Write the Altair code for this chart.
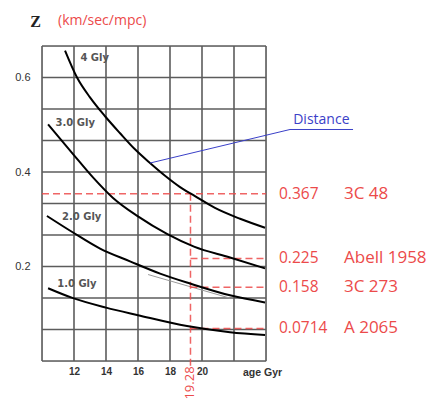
import altair as alt
import pandas as pd

# ---- curves: age (Gyr) vs Z ----
c4_x = [11.44, 12.19, 13.0, 13.94, 14.88, 15.81, 16.75, 17.69, 18.63, 19.56, 20.81, 22.38, 23.94]
c4_y = [0.657, 0.600, 0.558, 0.518, 0.482, 0.448, 0.419, 0.392, 0.368, 0.349, 0.324, 0.301, 0.282]
c3_x = [10.38, 11.94, 13.2, 14.44, 16.0, 17.81, 19.5, 21.75, 23.94]
c3_y = [0.501, 0.438, 0.388, 0.345, 0.306, 0.269, 0.242, 0.219, 0.196]
c2_x = [10.31, 11.94, 13.63, 15.5, 17.38, 19.25, 21.75, 23.94]
c2_y = [0.307, 0.272, 0.238, 0.211, 0.185, 0.164, 0.139, 0.124]
c1_x = [10.38, 11.94, 14.0, 16.0, 19.06, 21.75, 23.94]
c1_y = [0.154, 0.133, 0.113, 0.097, 0.074, 0.061, 0.055]
curve_names = ["4 Gly", "3.0 Gly", "2.0 Gly", "1.0 Gly"]
curve_label_x = [12.4, 10.85, 11.25, 10.95]
curve_label_y = [0.642, 0.503, 0.305, 0.164]

# faint grey guide line near the 2.0 Gly curve
grey_x = [16.63, 21.75]
grey_y = [0.183, 0.133]

# ---- marked objects ----
obj_z_text = ["0.367", "0.225", "0.158", "0.0714"]
obj_names = ["3C 48", "Abell 1958", "3C 273", "A 2065"]
obj_y = [0.354, 0.217, 0.156, 0.069]       # where the dashed lines sit in the picture
obj_x_start = [10, 19.28, 19.28, 19.28]
age_mark = 19.28

# ---- "Distance" annotation ----
dist_from = (16.75, 0.419)
dist_elbow = (25.5, 0.49)
dist_end_x = 29.44

grid_x = [10, 12, 14, 16, 18, 20, 22, 24]
grid_y = [0, 0.0667, 0.1333, 0.2, 0.2667, 0.3333, 0.4, 0.4667, 0.5333, 0.6, 0.6667]
x_labels = [12, 14, 16, 18, 20]
y_labels = [0.2, 0.4, 0.6]

RED = "#ec4a4a"
BLUE = "#3a40c8"
GRID = "#5c5c5c"

rows = []
for name, xs_, ys_ in zip(curve_names, [c4_x, c3_x, c2_x, c1_x], [c4_y, c3_y, c2_y, c1_y]):
    for a, b in zip(xs_, ys_):
        rows.append({"curve": name, "age": a, "z": b})
curves_df = pd.DataFrame(rows)

xs = alt.Scale(domain=[10, 24], nice=False, zero=False)
ys = alt.Scale(domain=[0, 0.6667], nice=False, zero=False)

gx = alt.Chart(pd.DataFrame({"age": grid_x})).mark_rule(color=GRID, strokeWidth=1.6).encode(
    x=alt.X("age:Q", scale=xs))
gy = alt.Chart(pd.DataFrame({"z": grid_y})).mark_rule(color=GRID, strokeWidth=1.6).encode(
    y=alt.Y("z:Q", scale=ys))

curves = alt.Chart(curves_df).mark_line(color="black", strokeWidth=2, interpolate="monotone").encode(
    x=alt.X("age:Q", scale=xs, axis=alt.Axis(
        values=x_labels, grid=False, domain=False, ticks=False, labelOverlap=False,
        labelFont="Liberation Sans", labelFontSize=10, labelFontWeight="bold", labelColor="#333",
        labelPadding=5, title="age    Gyr", titleFont="Liberation Sans", titleFontSize=10.5,
        titleFontWeight="bold", titleColor="#333", titleX=220, titleY=11,
        titleAlign="center", titleBaseline="middle")),
    y=alt.Y("z:Q", scale=ys, axis=alt.Axis(
        values=y_labels, grid=False, domain=False, ticks=False, labelOverlap=False, format=".1f",
        labelFont="Liberation Sans", labelFontSize=11, labelColor="#333", labelPadding=12,
        title="Z", titleFont="Liberation Serif", titleFontSize=16, titleFontWeight="bold",
        titleColor="#222", titleAngle=0, titleX=-7, titleY=-25,
        titleAlign="center", titleBaseline="middle")),
    detail="curve:N",
)

grey_df = pd.DataFrame({"age": grey_x, "z": grey_y})
grey = alt.Chart(grey_df).mark_line(color="#9a9a9a", strokeWidth=1).encode(
    x=alt.X("age:Q", scale=xs), y=alt.Y("z:Q", scale=ys))

clabels_df = pd.DataFrame({"age": curve_label_x, "z": curve_label_y, "t": curve_names})
clabels = alt.Chart(clabels_df).mark_text(
    align="left", baseline="middle", font="DejaVu Sans", fontSize=10,
    fontWeight="bold", color="#555").encode(
    x=alt.X("age:Q", scale=xs), y=alt.Y("z:Q", scale=ys), text="t:N")

obj_df = pd.DataFrame({"x0": obj_x_start, "x1": [24] * 4, "z": obj_y,
                       "zt": obj_z_text, "nm": obj_names})
hlines = alt.Chart(obj_df).mark_rule(color=RED, strokeWidth=1.5, strokeDash=[7, 4], opacity=0.85).encode(
    x=alt.X("x0:Q", scale=xs), x2="x1:Q", y=alt.Y("z:Q", scale=ys))
ztext = alt.Chart(obj_df).mark_text(
    align="left", baseline="middle", font="Open Sans", fontSize=15.5, color=RED).encode(
    x=alt.value(237), y=alt.Y("z:Q", scale=ys), text="zt:N")
ntext = alt.Chart(obj_df).mark_text(
    align="left", baseline="middle", font="Open Sans", fontSize=17, color=RED).encode(
    x=alt.value(302), y=alt.Y("z:Q", scale=ys), text="nm:N")

vdf = pd.DataFrame({"age": [age_mark], "z": [obj_y[0]], "t": [str(age_mark)]})
vline = alt.Chart(vdf).mark_rule(color=RED, strokeWidth=1.5, strokeDash=[7, 4], opacity=0.85).encode(
    x=alt.X("age:Q", scale=xs), y=alt.Y("z:Q", scale=ys), y2=alt.value(321))
vtext = alt.Chart(vdf).mark_text(
    angle=270, align="center", baseline="middle", font="Open Sans", fontSize=13, color=RED).encode(
    x=alt.X("age:Q", scale=xs), y=alt.value(337), text="t:N")

unit = alt.Chart(pd.DataFrame({"t": ["(km/sec/mpc)"]})).mark_text(
    align="left", baseline="middle", font="Open Sans", fontSize=14, color=RED).encode(
    x=alt.value(16), y=alt.value(-25), text="t:N")

ddf = pd.DataFrame({"x0": [dist_from[0], dist_elbow[0]], "z0": [dist_from[1], dist_elbow[1]],
                    "x1": [dist_elbow[0], dist_end_x], "z1": [dist_elbow[1], dist_elbow[1]]})
dline = alt.Chart(ddf).mark_rule(color=BLUE, strokeWidth=1).encode(
    x=alt.X("x0:Q", scale=xs), y=alt.Y("z0:Q", scale=ys), x2="x1:Q", y2="z1:Q")
dtext = alt.Chart(pd.DataFrame({"age": [dist_elbow[0] + 0.2], "z": [dist_elbow[1] + 0.005],
                                "t": ["Distance"]})).mark_text(
    align="left", baseline="bottom", font="Open Sans", fontSize=14, color=BLUE).encode(
    x=alt.X("age:Q", scale=xs), y=alt.Y("z:Q", scale=ys), text="t:N")

chart = alt.layer(
    gx, gy, grey, hlines, vline, curves, clabels, ztext, ntext, vtext, unit, dline, dtext
).properties(
    width=224, height=315,
    autosize=alt.AutoSizeParams(type="none"),
    padding={"left": 34, "top": 38, "right": 164, "bottom": 40},
).configure_view(stroke=None).configure(background="white")

chart.save("out.html", embed_options={"renderer": "svg", "actions": False})
